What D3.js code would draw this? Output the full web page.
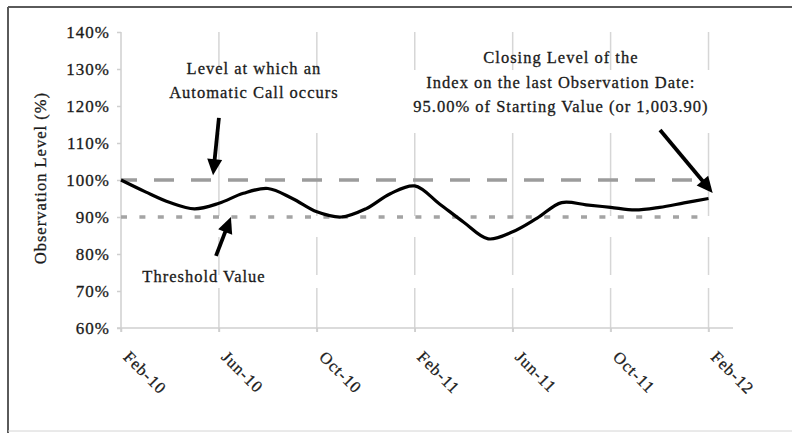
<!DOCTYPE html>
<html>
<head>
<meta charset="utf-8">
<script src="https://cdn.jsdelivr.net/npm/d3@7/dist/d3.min.js"></script>
<style>
    body { margin: 0; background: #fff; }
    svg text { font-family: "Liberation Serif", "Times New Roman", serif; fill: #1a1a1a; stroke: #1a1a1a; stroke-width: 0.3px; letter-spacing: 1px; }
</style>
</head>
<body>
<div id="chart"></div>
<script>

// months counted from Feb-10, observation level in % of starting value
var months = [0, 1, 2, 3, 4, 5, 6, 7, 8, 9, 10, 11, 12, 13, 14, 15, 16, 17, 18, 19, 20, 21, 22, 23, 24];
var levels = [100, 96.8, 93.9, 92.2, 93.7, 96.4, 97.7, 95.0, 91.4, 90.0, 92.2, 96.3,
              98.4, 93.6, 88.6, 84.1, 86.0, 89.7, 93.9, 93.3, 92.6, 91.9, 92.6, 93.8, 95.0];

var tickMonths = [0, 4, 8, 12, 16, 20, 24];
var tickLabels = ["Feb-10", "Jun-10", "Oct-10", "Feb-11", "Jun-11", "Oct-11", "Feb-12"];
var yTicks = [60, 70, 80, 90, 100, 110, 120, 130, 140];

var callLevel = 100;
var thresholdLevel = 90;

// annotations, placed in data space (month, level)
var notes = [
    { lines: ["Level at which an", "Automatic Call occurs"], m: 5.43, v: 128.65 },
    { lines: ["Threshold Value"], m: 3.39, v: 72.4 },
    { lines: ["Closing Level of the", "Index on the last Observation Date:", "95.00% of Starting Value (or 1,003.90)"], m: 17.97, v: 131.6 }
];
var arrows = [
    { from: [4.0, 116.8], to: [3.76, 101.3] },
    { from: [3.88, 79.5], to: [4.49, 90.0] },
    { from: [22.02, 113.5], to: [24.17, 96.5] }
];


var width = 792, height = 433;

var svg = d3.select("#chart").append("svg")
    .attr("width", width)
    .attr("height", height);

svg.append("rect").attr("width", width).attr("height", height).attr("fill", "#fff");

// outer frame (only left/top/bottom visible in the picture)
svg.append("line").attr("x1", 8).attr("y1", 7).attr("x2", width).attr("y2", 7)
    .attr("stroke", "#5a5a5a").attr("stroke-width", 2);
svg.append("line").attr("x1", 8).attr("y1", 7).attr("x2", 8).attr("y2", height)
    .attr("stroke", "#5a5a5a").attr("stroke-width", 2);
svg.append("line").attr("x1", 8).attr("y1", 431).attr("x2", width).attr("y2", 431)
    .attr("stroke", "#d4d4d4").attr("stroke-width", 1);

var x = d3.scaleLinear().domain([0, 25]).range([121, 733]);
var y = d3.scaleLinear().domain([60, 140]).range([328, 32]);

// vertical gridlines (broken the same way as the original)
svg.append("g").selectAll("line")
    .data(tickMonths.slice(1))
    .enter().append("line")
    .attr("x1", function (d) { return x(d); })
    .attr("x2", function (d) { return x(d); })
    .attr("y1", y(140))
    .attr("y2", y(60) + 4)
    .attr("stroke", "#d6d6d6")
    .attr("stroke-width", 1.5)
    .attr("stroke-dasharray", "38 63 83 21 38 13 60");

// y axis
var yAxis = d3.axisLeft(y)
    .tickValues(yTicks)
    .tickSize(4)
    .tickPadding(7)
    .tickFormat(function (d) { return d + "%"; });

var gy = svg.append("g").attr("transform", "translate(" + x(0) + ",0)").call(yAxis);
gy.select(".domain").attr("stroke", "#cfcfcf").attr("stroke-width", 1.5)
    .attr("d", "M0," + y(140) + "V" + (y(60) + 4));
gy.selectAll(".tick line").attr("stroke", "#cfcfcf").attr("stroke-width", 1.5);
gy.selectAll(".tick text")
    .attr("font-size", 17)
    .attr("fill", "#1a1a1a")
    .style("font-family", "'Liberation Serif', 'Times New Roman', serif");

// x axis
var xAxis = d3.axisBottom(x)
    .tickValues(tickMonths)
    .tickSize(4)
    .tickFormat(function (d, i) { return tickLabels[i]; });

var gx = svg.append("g").attr("transform", "translate(0," + y(60) + ")").call(xAxis);
gx.select(".domain").attr("stroke", "#cfcfcf").attr("stroke-width", 1.5)
    .attr("d", "M" + (x(0) - 4) + ",0H" + x(25));
gx.selectAll(".tick line").attr("stroke", "#cfcfcf").attr("stroke-width", 1.5);
gx.selectAll(".tick text")
    .attr("font-size", 16.5)
    .attr("fill", "#1a1a1a")
    .attr("text-anchor", "start")
    .attr("x", 0)
    .attr("y", 0)
    .attr("dy", 0)
    .attr("transform", "translate(1,30) rotate(45)")
    .style("font-family", "'Liberation Serif', 'Times New Roman', serif");

// axis title
svg.append("text")
    .attr("transform", "translate(46," + y(100.5) + ") rotate(-90)")
    .attr("text-anchor", "middle")
    .attr("font-size", 16.5)
    .text("Observation Level (%)");

// reference lines
svg.append("line")
    .attr("x1", x(0)).attr("x2", x(24))
    .attr("y1", y(callLevel)).attr("y2", y(callLevel))
    .attr("stroke", "#9c9c9c")
    .attr("stroke-width", 3.5)
    .attr("stroke-dasharray", "20 17")
    .attr("stroke-dashoffset", 4);

svg.append("line")
    .attr("x1", x(0)).attr("x2", x(24))
    .attr("y1", y(thresholdLevel)).attr("y2", y(thresholdLevel))
    .attr("stroke", "#a4a4a4")
    .attr("stroke-width", 3.5)
    .attr("stroke-dasharray", "6 12.4");

// index line
var line = d3.line()
    .x(function (d, i) { return x(months[i]); })
    .y(function (d) { return y(d); })
    .curve(d3.curveCatmullRom);

svg.append("path")
    .datum(levels)
    .attr("d", line)
    .attr("fill", "none")
    .attr("stroke", "#000")
    .attr("stroke-width", 3.2);

// annotation text
notes.forEach(function (n) {
    var t = svg.append("text")
        .attr("text-anchor", "middle")
        .attr("font-size", 16.5);
    n.lines.forEach(function (s, i) {
        t.append("tspan")
            .attr("x", x(n.m))
            .attr("y", y(n.v) + i * 24.5)
            .text(s);
    });
});

// arrows
arrows.forEach(function (a) {
    var x1 = x(a.from[0]), y1 = y(a.from[1]);
    var x2 = x(a.to[0]), y2 = y(a.to[1]);
    var dx = x2 - x1, dy = y2 - y1, len = Math.sqrt(dx * dx + dy * dy);
    var ux = dx / len, uy = dy / len;
    var headLen = 16, headW = 7.5;
    var bx = x2 - ux * headLen, by = y2 - uy * headLen;

    svg.append("line")
        .attr("x1", x1).attr("y1", y1)
        .attr("x2", bx + ux * 2).attr("y2", by + uy * 2)
        .attr("stroke", "#000")
        .attr("stroke-width", 3.8);

    svg.append("path")
        .attr("d", "M" + x2 + "," + y2 +
            "L" + (bx - uy * headW) + "," + (by + ux * headW) +
            "L" + (bx + uy * headW) + "," + (by - ux * headW) + "Z")
        .attr("fill", "#000");
});

</script>
</body>
</html>
